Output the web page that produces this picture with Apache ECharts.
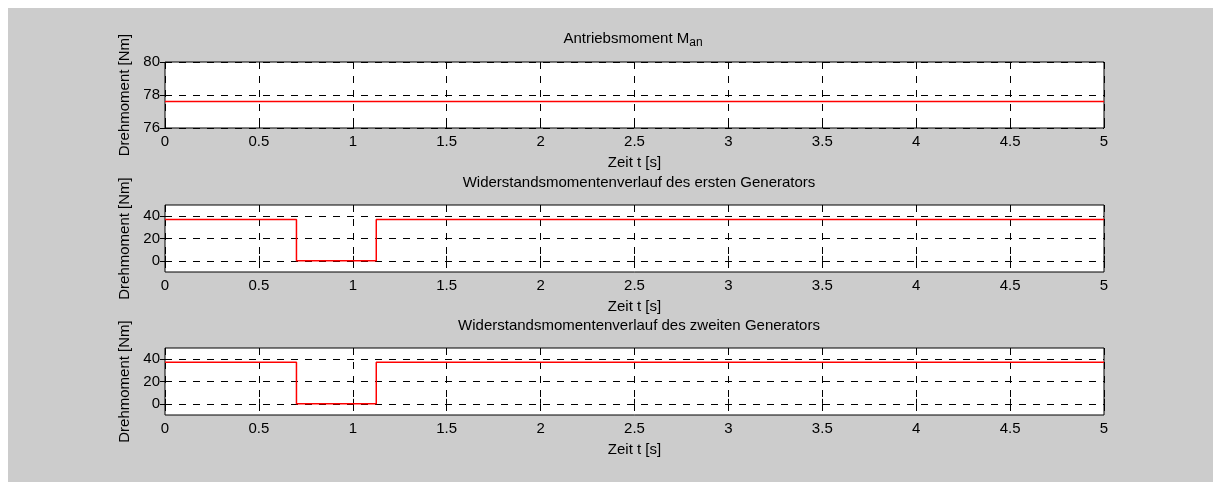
<!DOCTYPE html>
<html>
<head>
<meta charset="utf-8">
<script src="https://cdn.jsdelivr.net/npm/echarts@6/dist/echarts.min.js"></script>
<style>
  html, body { margin: 0; padding: 0; background: #fff; }
  #frame { position: absolute; left: 8px; top: 8px; width: 1205px; height: 474px; background: #cccccc; }
  #chart { position: absolute; left: -8px; top: -8px; width: 1213px; height: 482px; }
</style>
</head>
<body>
<div id="frame"><div id="chart"></div></div>
<script>
// Zeitachse [s]
var xTicks = [0, 0.5, 1, 1.5, 2, 2.5, 3, 3.5, 4, 4.5, 5];
// Antriebsmoment
var tDrive = [0, 5];
var mDrive = [77.6, 77.6];
var yTicksDrive = [76, 78, 80];
// Widerstandsmomente (Stufenverlauf, Wert gilt bis zum naechsten Zeitpunkt)
var tGen = [0, 0.7, 1.125, 5];
var mGen1 = [37, 0, 37, 37];
var mGen2 = [37.3, 0, 37.3, 37.3];
var yTicksGen = [0, 20, 40];

var titles = ['Antriebsmoment M{sub|an}', 'Widerstandsmomentenverlauf des ersten Generators', 'Widerstandsmomentenverlauf des zweiten Generators'];
var titleLefts = [628, 634, 634];
var titleTops = [23, 170, 313];
var tops = [62, 205, 348];
var heights = [66, 67, 67];
var yRanges = [[76, 80], [-10, 50], [-10, 50]];
var yTickSets = [yTicksDrive, yTicksGen, yTicksGen];
var seriesT = [tDrive, tGen, tGen];
var seriesM = [mDrive, mGen1, mGen2];

var font = 'Liberation Sans, Arial, sans-serif';
var fs = 15;
var dash = [7, 7];

function zip(a, b) {
    return a.map(function(v, i){ return [v, b[i]]; });
}

var option = {
    animation: false,
    title: [], grid: [], xAxis: [], yAxis: [], series: []
};

for (var i = 0; i < 3; i++) {
    option.title.push({
        text: titles[i],
        left: titleLefts[i], top: titleTops[i], textAlign: 'center',
        textStyle: {
            fontFamily: font, fontSize: fs, fontWeight: 'normal', color: '#000',
            rich: { sub: { fontFamily: font, fontSize: 12, color: '#000', verticalAlign: 'bottom', padding: [9, 0, 0, 0] } }
        }
    });
    option.grid.push({
        left: 165, right: 109, top: tops[i], height: heights[i],
        show: true, backgroundColor: '#fff', borderColor: '#000', borderWidth: 1
    });
    // untere x-Achse mit Beschriftung und Gitter
    option.xAxis.push({
        type: 'value', gridIndex: i, min: 0, max: 5, interval: 0.5,
        name: 'Zeit t [s]', nameLocation: 'middle', nameGap: 27,
        nameTextStyle: { fontFamily: font, fontSize: fs, color: '#000' },
        axisLine: { show: false },
        axisTick: { inside: true, length: 5, lineStyle: { color: '#000' } },
        axisLabel: { fontFamily: font, fontSize: fs, color: '#000', margin: 6,
            formatter: function(v){ return String(v); } },
        splitLine: { show: true, lineStyle: { color: '#000', type: dash, width: 1 } }
    });
    // obere x-Achse nur fuer Ticks
    option.xAxis.push({
        type: 'value', gridIndex: i, position: 'top', min: 0, max: 5, interval: 0.5,
        axisLine: { show: false },
        axisTick: { inside: true, length: 5, lineStyle: { color: '#000' } },
        axisLabel: { show: false }, splitLine: { show: false }
    });
    var yt = yTickSets[i];
    option.yAxis.push({
        type: 'value', gridIndex: i, min: yRanges[i][0], max: yRanges[i][1],
        name: 'Drehmoment [Nm]', nameLocation: 'middle', nameGap: 28,
        nameTextStyle: { fontFamily: font, fontSize: fs, color: '#000' },
        axisLine: { show: false },
        axisTick: { inside: true, length: 5, customValues: yt, lineStyle: { color: '#000' } },
        axisLabel: { fontFamily: font, fontSize: fs, color: '#000', margin: 5, customValues: yt },
        splitLine: { show: false }
    });
    option.yAxis.push({
        type: 'value', gridIndex: i, position: 'right', min: yRanges[i][0], max: yRanges[i][1],
        axisLine: { show: false },
        axisTick: { inside: true, length: 5, customValues: yt, lineStyle: { color: '#000' } },
        axisLabel: { show: false, customValues: yt }, splitLine: { show: false }
    });
    option.series.push({
        type: 'line', xAxisIndex: 2 * i, yAxisIndex: 2 * i,
        data: zip(seriesT[i], seriesM[i]),
        step: i === 0 ? false : 'end',
        showSymbol: false, symbol: 'none',
        lineStyle: { color: '#ff0000', width: 1.5 },
        z: 5,
        markLine: {
            silent: true, symbol: 'none', animation: false,
            label: { show: false },
            lineStyle: { color: '#000', type: dash, width: 1 },
            data: yt.map(function(v){ return { yAxis: v }; })
        }
    });
}

echarts.init(document.getElementById('chart')).setOption(option);
</script>
</body>
</html>
